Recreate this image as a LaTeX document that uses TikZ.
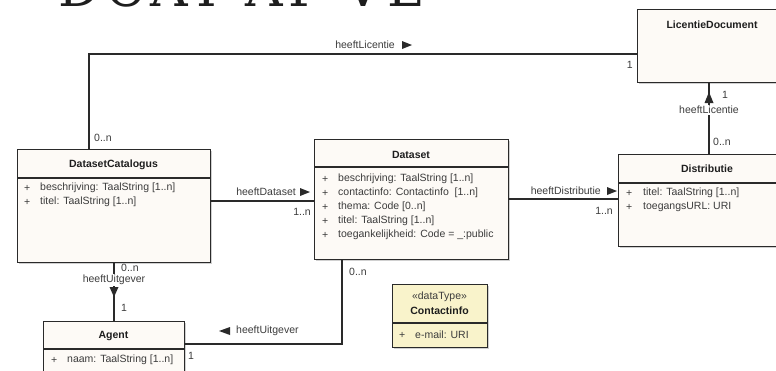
\documentclass[tikz,border=0pt]{standalone}
\usepackage{fontspec}
\setmainfont{Liberation Sans}
\newfontfamily\headingfont[LetterSpace=10]{DejaVu Serif}
\usetikzlibrary{shadows}

\definecolor{boxfill}{HTML}{FDFAF6}
\definecolor{dtfill}{HTML}{F9F3CB}
\definecolor{edge}{HTML}{2A2A2A}
\definecolor{txt}{HTML}{3C3C3C}
\definecolor{titletxt}{HTML}{1E1E1E}

\begin{document}
\begin{tikzpicture}[x=1pt,y=-1pt,
  font=\fontsize{10.5}{12}\selectfont,
  classbox/.style={rectangle, draw=edge, line width=1.2pt, fill=boxfill,
    inner sep=0pt, anchor=north west,
    drop shadow={shadow xshift=1.3pt, shadow yshift=-1.3pt, opacity=.3, fill=black!60}},
  sepline/.style={draw=edge, line width=1.1pt},
  ctitle/.style={font=\fontsize{10.5}{12}\selectfont\bfseries, text=titletxt, inner sep=0pt},
  stereo/.style={text=txt, inner sep=0pt},
  attr/.style={anchor=west, text=txt, inner sep=0pt},
  mult/.style={text=txt, inner sep=0pt},
  assoc/.style={draw=edge, line width=1.1pt},
  rolelbl/.style={text=txt, inner sep=1pt},
  tri/.style={fill=edge, draw=none}]

\path[use as bounding box, fill=white] (0,0) rectangle (776,370);

% heading, only its lower edge lies inside the page
\node[anchor=base west, inner sep=0pt, text=titletxt,
      font=\headingfont\fontsize{52}{52}\selectfont] (heading) at (58,6) {DCAT-AP-VL};

% ---------- classes ----------
\node[classbox, minimum width=150pt, minimum height=73pt] (lic) at (637,9) {};
\node[ctitle] (lic-t) at (712,25) {LicentieDocument};

\node[classbox, minimum width=178pt, minimum height=92pt] (dist) at (618,154) {};
\draw[sepline] (dist.west |- 0,183) -- (dist.east |- 0,183);
\node[ctitle] (dist-t) at (707,169) {Distributie};
\node[attr] (dist-p1) at (626,193) {+};
\node[attr] (dist-a1) at (643,193) {titel: TaalString [1..n]};
\node[attr] (dist-p2) at (626,207) {+};
\node[attr] (dist-a2) at (643,207) {toegangsURL: URI};

\node[classbox, minimum width=193pt, minimum height=113pt] (cat) at (17,149) {};
\draw[sepline] (cat.west |- 0,178) -- (cat.east |- 0,178);
\node[ctitle] (cat-t) at (113.5,164.5) {DatasetCatalogus};
\node[attr] (cat-p1) at (24,188) {+};
\node[attr] (cat-a1) at (40,188) {beschrijving: TaalString [1..n]};
\node[attr] (cat-p2) at (24,202) {+};
\node[attr] (cat-a2) at (40,202) {titel: TaalString [1..n]};

\node[classbox, minimum width=194pt, minimum height=120pt] (ds) at (314,139) {};
\draw[sepline] (ds.west |- 0,167) -- (ds.east |- 0,167);
\node[ctitle] (ds-t) at (411,155) {Dataset};
\node[attr] (ds-p1) at (322,179) {+};
\node[attr] (ds-a1) at (338,179) {beschrijving: TaalString [1..n]};
\node[attr] (ds-p2) at (322,193) {+};
\node[attr] (ds-a2) at (338,193) {contactinfo: Contactinfo \ [1..n]};
\node[attr] (ds-p3) at (322,207) {+};
\node[attr] (ds-a3) at (338,207) {thema: Code [0..n]};
\node[attr] (ds-p4) at (322,221) {+};
\node[attr] (ds-a4) at (338,221) {titel: TaalString [1..n]};
\node[attr] (ds-p5) at (322,235) {+};
\node[attr] (ds-a5) at (338,235) {toegankelijkheid: Code = \_:public};

\node[classbox, minimum width=141pt, minimum height=70pt] (agent) at (43,321) {};
\draw[sepline] (agent.west |- 0,349) -- (agent.east |- 0,349);
\node[ctitle] (agent-t) at (113.5,336) {Agent};
\node[attr] (agent-p1) at (51,360) {+};
\node[attr] (agent-a1) at (67,360) {naam: TaalString [1..n]};

\node[classbox, fill=dtfill, minimum width=95pt, minimum height=63pt] (ci) at (392,284) {};
\draw[sepline] (ci.west |- 0,323) -- (ci.east |- 0,323);
\node[stereo] (ci-s) at (439.5,297) {«dataType»};
\node[ctitle] (ci-t) at (439.5,311) {Contactinfo};
\node[attr] (ci-p1) at (399,335) {+};
\node[attr] (ci-a1) at (415,335) {e-mail: URI};

% ---------- associations ----------
% DatasetCatalogus -> LicentieDocument
\draw[assoc] (cat.north -| 89,0) |- (lic.west |- 0,54);
\node[rolelbl, anchor=east] (l1) at (396,45) {heeftLicentie};
\fill[tri] (402,41) -- (412,45) -- (402,49) -- cycle;
\node[mult, anchor=west] (m1a) at (94,138) {0..n};
\node[mult, anchor=east] (m1b) at (633,65) {1};

% DatasetCatalogus -> Dataset
\draw[assoc] (cat.east |- 0,201) -- (ds.west |- 0,201);
\node[rolelbl, anchor=east] (l2) at (297,192) {heeftDataset};
\fill[tri] (300,188) -- (310,192) -- (300,196) -- cycle;
\node[mult, anchor=east] (m2) at (311,212) {1..n};

% Dataset -> Distributie
\draw[assoc] (ds.east |- 0,199) -- (dist.west |- 0,199);
\node[rolelbl, anchor=east] (l3) at (602,191) {heeftDistributie};
\fill[tri] (607,187) -- (617,191) -- (607,195) -- cycle;
\node[mult, anchor=east] (m3) at (613,211) {1..n};

% Distributie -> LicentieDocument
\draw[assoc] (dist.north -| 709,0) -- (lic.south -| 709,0);
\node[rolelbl, fill=white] (l4) at (709,110) {heeftLicentie};
\fill[tri] (704.5,103) -- (709,92) -- (713.5,103) -- cycle;
\node[mult, anchor=west] (m4a) at (722,95) {1};
\node[mult, anchor=west] (m4b) at (713,142) {0..n};

% DatasetCatalogus -> Agent
\draw[assoc] (cat.south -| 114,0) -- (agent.north -| 114,0);
\node[rolelbl, fill=white] (l5) at (114,280) {heeftUitgever};
\fill[tri] (109.5,287) -- (118.5,287) -- (114,297) -- cycle;
\node[mult, anchor=west] (m5a) at (121,268) {0..n};
\node[mult, anchor=west] (m5b) at (121,308) {1};

% Dataset -> Agent
\draw[assoc] (ds.south -| 342,0) |- (agent.east |- 0,344);
\fill[tri] (230,327) -- (219,331) -- (230,335) -- cycle;
\node[rolelbl, anchor=west] (l6) at (235,331) {heeftUitgever};
\node[mult, anchor=west] (m6a) at (349,272) {0..n};
\node[mult, anchor=west] (m6b) at (188,356) {1};

\end{tikzpicture}
\end{document}
